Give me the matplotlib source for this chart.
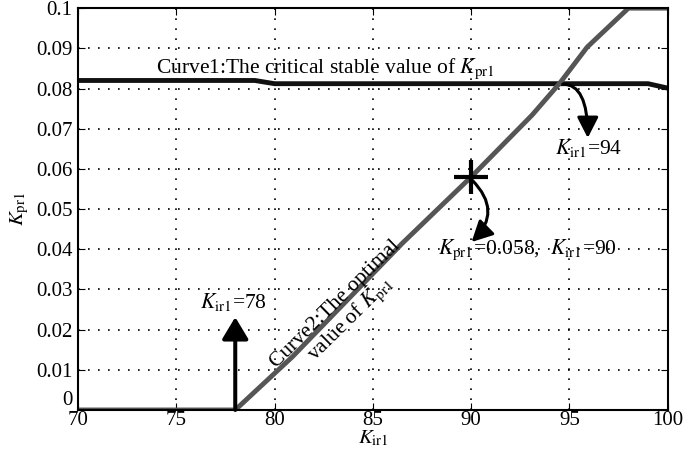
import numpy as np
import matplotlib
matplotlib.use('Agg')
import matplotlib.pyplot as plt

plt.rcParams['font.family'] = ['Liberation Serif', 'DejaVu Sans']
plt.rcParams['mathtext.fontset'] = 'stix'

# Curve1: critical stable value of Kpr1
k_ir_c1 = [70, 79, 80, 99, 100]
k_pr_c1 = [0.082, 0.082, 0.0812, 0.0812, 0.0801]

# Curve2: optimal value of Kpr1
k_ir_c2 = [70, 78, 80.9, 86.5, 90, 93.1, 94.5, 95.9, 98, 100]
k_pr_c2 = [0, 0, 0.0132, 0.0415, 0.058, 0.0734, 0.0813, 0.0903, 0.1, 0.1]

xticks = [70, 75, 80, 85, 90, 95, 100]
yticks = [0, 0.01, 0.02, 0.03, 0.04, 0.05, 0.06, 0.07, 0.08, 0.09, 0.1]
ylabels = ['0', '0.01', '0.02', '0.03', '0.04', '0.05', '0.06', '0.07', '0.08', '0.09', '0.1']

fig = plt.figure(figsize=(6.87, 4.53), dpi=100)
ax = fig.add_axes([0.1135, 0.095, 0.8585, 0.887])

ax.plot(k_ir_c1, k_pr_c1, color='#111111', lw=3.5, solid_capstyle='butt')
ax.plot(k_ir_c2, k_pr_c2, color='#555555', lw=3.5, solid_capstyle='butt')

ax.set_xlim(70, 100)
ax.set_ylim(0, 0.1)
ax.set_xticks(xticks)
ax.set_yticks(yticks)
ax.set_yticklabels(ylabels)
ax.get_yticklabels()[0].set_va('bottom')
ax.tick_params(direction='in', top=True, right=True, labelsize=15, length=5)
ax.tick_params(axis='x', pad=1)
ax.tick_params(axis='y', pad=4)
ax.grid(True, linestyle=(0, (1, 5)), color='black', lw=1.2)
for s in ax.spines.values():
    s.set_linewidth(1.5)

ax.set_xlabel(r'$K_{\rm ir1}$', fontsize=15, labelpad=-1)
ax.set_ylabel(r'$K_{\rm pr1}$', fontsize=15)
ax.yaxis.set_label_coords(-0.08, 0.5)

ax.text(73.95, 0.0838, r'Curve1:The critical stable value of $K_{\rm pr1}$', fontsize=15.5)

# vertical arrow at Kir1 = 78
ax.annotate('', xy=(78, 0.0231), xytext=(78, 0),
            arrowprops=dict(arrowstyle='-|>,head_length=0.95,head_width=0.57', color='black',
                            lw=2.9, mutation_scale=14, shrinkA=0, shrinkB=0))
ax.text(77.9, 0.0269, r'$K_{\rm ir1}$=78', fontsize=15.5, ha='center', va='center')

ax.text(83.55, 0.0242, 'Curve2:The optimal\nvalue of $K_{\\rm pr1}$', fontsize=15.5,
        rotation=44.5, ha='center', va='center', rotation_mode='anchor',
        multialignment='center', linespacing=1.0)

# optimal point
ax.plot([90], [0.058], marker='+', color='black', markersize=24, markeredgewidth=3)
ax.annotate('', xy=(90.02, 0.0418), xytext=(90.05, 0.0572),
            arrowprops=dict(arrowstyle='-|>,head_length=0.9,head_width=0.46', color='black',
                            lw=2.2, mutation_scale=14,
                            connectionstyle='arc3,rad=-0.5', shrinkA=0, shrinkB=0))
ax.text(92.88, 0.0398, r'$K_{\rm pr1}$=0.058,  $K_{\rm ir1}$=90', fontsize=15.5,
        ha='center', va='center')

# intersection arrow
ax.annotate('', xy=(95.93, 0.0677), xytext=(94.66, 0.0811),
            arrowprops=dict(arrowstyle='-|>,head_length=0.9,head_width=0.46', color='black',
                            lw=2.2, mutation_scale=14,
                            connectionstyle='angle3,angleA=0,angleB=90', shrinkA=0, shrinkB=0))
ax.text(96.0, 0.0652, r'$K_{\rm ir1}$=94', fontsize=15.5, ha='center', va='center')

fig.savefig('out.png', dpi=100)
